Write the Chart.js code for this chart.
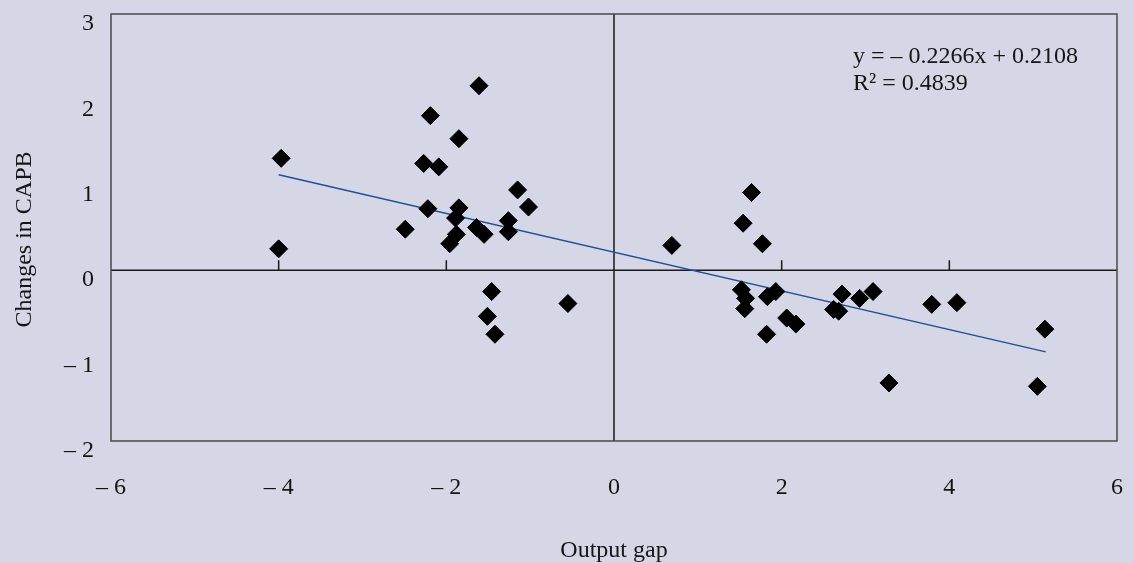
<!DOCTYPE html>
<html>
<head>
<meta charset="utf-8">
<script src="https://cdn.jsdelivr.net/npm/chart.js@4.4.0/dist/chart.umd.min.js"></script>
<style>
  html, body { margin: 0; padding: 0; background: #d5d7e6; }
  #wrap { width: 1134px; height: 563px; }
</style>
</head>
<body>
<div id="wrap"><canvas id="gapChart"></canvas></div>
<script>
// output gap (x) against change in CAPB (y), one entry per observation
const gapX = [-3.97, -4.00, -2.19, -1.61, -1.85, -2.27, -2.09, -1.15, -1.02, -2.22, -1.85, -1.89,
  -2.49, -1.64, -1.55, -1.26, -1.26, -1.88, -1.96, -1.46, -1.51, -1.42, -0.55,
  0.69, 1.64, 1.54, 1.77, 1.52, 1.57, 1.56, 1.83, 1.93, 2.06, 2.17, 1.82,
  2.72, 2.62, 2.68, 2.93, 3.09, 3.79, 4.09, 3.28, 5.14, 5.05];
const capbY = [1.31, 0.25, 1.81, 2.16, 1.54, 1.25, 1.21, 0.94, 0.74, 0.72, 0.73, 0.61,
  0.48, 0.50, 0.42, 0.58, 0.45, 0.42, 0.31, -0.25, -0.54, -0.75, -0.39,
  0.29, 0.91, 0.55, 0.31, -0.23, -0.33, -0.45, -0.31, -0.25, -0.56, -0.63, -0.75,
  -0.28, -0.46, -0.48, -0.33, -0.25, -0.40, -0.38, -1.32, -0.69, -1.36];

const xTicks = [-6, -4, -2, 0, 2, 4, 6];
const yTicks = [-2, -1, 0, 1, 2, 3];

// fitted line as printed on the chart
const trendSlope = -0.2266;
const trendIntercept = 0.2108;
const trendX = [-4, 5.15];
const eqLines = ['y = \u2013 0.2266x + 0.2108', 'R\u00b2 = 0.4839'];

const serif = '"Liberation Serif", "Times New Roman", serif';
const ink = '#151515';

function minusLabel(v) {
  return v < 0 ? '\u2013 ' + Math.abs(v) : String(v);
}

// keep the plot box where the layout padding puts it
function noScalePadding(s) {
  s.paddingTop = 0;
  s.paddingBottom = 0;
  s.paddingLeft = 0;
  s.paddingRight = 0;
}

// box, zero lines, tick marks and the equation
const frame = {
  id: 'frame',
  beforeDatasetsDraw(chart) {
    const { ctx, chartArea: a, scales: { x, y } } = chart;
    const x0 = x.getPixelForValue(0);
    const y0 = y.getPixelForValue(0);
    ctx.save();
    ctx.lineWidth = 1.5;
    ctx.strokeStyle = '#1a1a1a';
    ctx.beginPath();
    ctx.moveTo(a.left, y0);
    ctx.lineTo(a.right, y0);
    ctx.moveTo(x0, a.top);
    ctx.lineTo(x0, a.bottom);
    xTicks.forEach(v => {
      if (v <= -6 || v >= 6) return;
      const px = x.getPixelForValue(v);
      ctx.moveTo(px, y0);
      ctx.lineTo(px, y0 - 10);
    });
    ctx.stroke();
    ctx.strokeStyle = '#4a4a4a';
    ctx.strokeRect(a.left, a.top, a.right - a.left, a.bottom - a.top);
    ctx.restore();
  },
  afterDraw(chart) {
    const { ctx, scales: { x, y } } = chart;
    ctx.save();
    ctx.fillStyle = ink;
    ctx.font = '24px ' + serif;
    ctx.textBaseline = 'alphabetic';
    const tx = x.getPixelForValue(2.85);
    ctx.fillText(eqLines[0], tx, y.getPixelForValue(2.43));
    ctx.fillText(eqLines[1], tx, y.getPixelForValue(2.11));
    ctx.restore();
  }
};

new Chart(document.getElementById('gapChart'), {
  type: 'scatter',
  data: {
    datasets: [{
      label: 'Observations',
      data: gapX.map((v, i) => ({ x: v, y: capbY[i] })),
      pointStyle: 'rectRot',
      pointRadius: 9,
      pointHoverRadius: 9,
      pointBackgroundColor: '#000',
      pointBorderColor: '#000',
      pointBorderWidth: 1
    }, {
      type: 'line',
      label: 'Trend',
      data: trendX.map(v => ({ x: v, y: trendSlope * v + trendIntercept })),
      borderColor: '#1f4f99',
      borderWidth: 1.5,
      pointRadius: 0,
      fill: false
    }]
  },
  options: {
    responsive: true,
    maintainAspectRatio: false,
    animation: false,
    layout: { padding: { top: 14, right: 17, left: 0, bottom: 0 } },
    plugins: {
      legend: { display: false },
      tooltip: { enabled: false }
    },
    scales: {
      x: {
        type: 'linear',
        min: -6,
        max: 6,
        afterBuildTicks: s => { s.ticks = xTicks.map(v => ({ value: v })); },
        afterFit: s => { s.height = 122; noScalePadding(s); },
        grid: { display: false, drawTicks: false },
        border: { display: false },
        ticks: {
          padding: 32,
          color: ink,
          font: { family: serif, size: 24 },
          callback: minusLabel
        },
        title: {
          display: true,
          text: 'Output gap',
          color: ink,
          font: { family: serif, size: 24 },
          padding: { top: 0, bottom: -2 }
        }
      },
      y: {
        type: 'linear',
        min: -2,
        max: 3,
        afterBuildTicks: s => { s.ticks = yTicks.map(v => ({ value: v })); },
        afterFit: s => { s.width = 111; noScalePadding(s); },
        grid: { display: false, drawTicks: false },
        border: { display: false },
        ticks: {
          padding: 17,
          labelOffset: 10,
          color: ink,
          font: { family: serif, size: 24 },
          callback: minusLabel
        },
        title: {
          display: true,
          text: 'Changes in CAPB    ',
          color: ink,
          font: { family: serif, size: 24 },
          padding: { top: 10, bottom: 0 }
        }
      }
    }
  },
  plugins: [frame]
});
</script>
</body>
</html>
